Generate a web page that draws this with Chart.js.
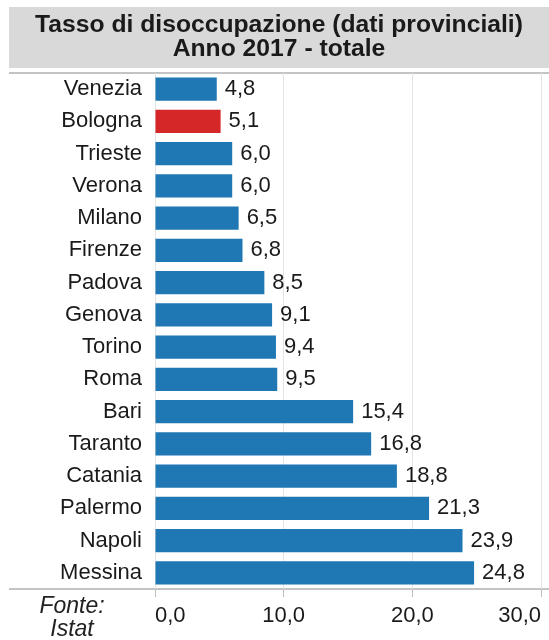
<!DOCTYPE html>
<html>
<head>
<meta charset="utf-8">
<script src="https://cdn.jsdelivr.net/npm/chart.js@4/dist/chart.umd.min.js"></script>
<style>
  html, body { margin: 0; padding: 0; background: #fff; }
  #wrap { width: 549px; height: 640px; }
</style>
</head>
<body>
<div id="wrap"><canvas id="chart" width="549" height="640"></canvas></div>
<script>
// <![CDATA[
var cities = ["Venezia", "Bologna", "Trieste", "Verona", "Milano", "Firenze", "Padova", "Genova",
              "Torino", "Roma", "Bari", "Taranto", "Catania", "Palermo", "Napoli", "Messina"];
var rates = [4.8, 5.1, 6.0, 6.0, 6.5, 6.8, 8.5, 9.1, 9.4, 9.5, 15.4, 16.8, 18.8, 21.3, 23.9, 24.8];
var highlight = "Bologna";
var titleLines = ["Tasso di disoccupazione (dati provinciali)", "Anno 2017 - totale"];
var sourceLines = ["Fonte:", "Istat"];

var FONT = "'Liberation Sans', Arial, sans-serif";
var BLUE = "#1f77b4";
var RED = "#d62728";

function itNum(v) {
    return Number(v).toFixed(1).replace(".", ",");
}

var frame = {
    id: "frame",
    beforeDraw: function (chart) {
        var ctx = chart.ctx;
        var area = chart.chartArea;
        ctx.save();
        // title box
        ctx.fillStyle = "#d9d9d9";
        ctx.fillRect(9, 7, 540, 61);
        ctx.fillStyle = "#1a1a1a";
        ctx.font = "bold 24.7px " + FONT;
        ctx.textAlign = "center";
        ctx.textBaseline = "middle";
        ctx.fillText(titleLines[0], 279, 25);
        ctx.fillText(titleLines[1], 279, 49);
        // top / bottom rules
        ctx.strokeStyle = "#c4c4c4";
        ctx.lineWidth = 2;
        ctx.beginPath();
        ctx.moveTo(9, area.top);
        ctx.lineTo(549, area.top);
        ctx.moveTo(9, area.bottom);
        ctx.lineTo(549, area.bottom);
        ctx.stroke();
        // source note
        ctx.font = "italic 23px " + FONT;
        ctx.fillStyle = "#222";
        ctx.fillText(sourceLines[0], 72, 607);
        ctx.fillText(sourceLines[1], 72, 630);
        ctx.restore();
    },
    afterDatasetsDraw: function (chart) {
        var ctx = chart.ctx;
        var meta = chart.getDatasetMeta(0);
        ctx.save();
        ctx.font = "22px " + FONT;
        ctx.fillStyle = "#1a1a1a";
        ctx.textAlign = "left";
        ctx.textBaseline = "middle";
        meta.data.forEach(function (bar, i) {
            ctx.fillText(itNum(rates[i]), bar.x + 8, bar.y);
        });
        ctx.restore();
    }
};

new Chart(document.getElementById("chart"), {
    type: "bar",
    data: {
        labels: cities,
        datasets: [{
            data: rates,
            backgroundColor: cities.map(function (c) { return c === highlight ? RED : BLUE; }),
            borderWidth: 0,
            categoryPercentage: 1,
            barPercentage: 0.72
        }]
    },
    options: {
        indexAxis: "y",
        responsive: false,
        animation: false,
        layout: { padding: { top: 73, right: 8, left: 0, bottom: 0 } },
        plugins: {
            legend: { display: false },
            tooltip: { enabled: false }
        },
        scales: {
            y: {
                grid: { display: false, drawTicks: false },
                border: { display: false },
                ticks: {
                    color: "#1a1a1a",
                    font: { family: FONT, size: 22 },
                    padding: 13
                },
                afterFit: function (s) { s.width = 155; }
            },
            x: {
                min: 0,
                max: 30,
                grid: {
                    color: "#e3e3e3",
                    lineWidth: 1,
                    drawTicks: true,
                    tickLength: 8,
                    tickColor: "#bdbdbd"
                },
                border: { display: false },
                ticks: {
                    stepSize: 10,
                    align: "inner",
                    color: "#1a1a1a",
                    font: { family: FONT, size: 22 },
                    padding: 6,
                    maxRotation: 0,
                    callback: function (v) { return itNum(v); }
                },
                afterFit: function (s) { s.height = 51; }
            }
        }
    },
    plugins: [frame]
});
// ]]>
</script>
</body>
</html>
